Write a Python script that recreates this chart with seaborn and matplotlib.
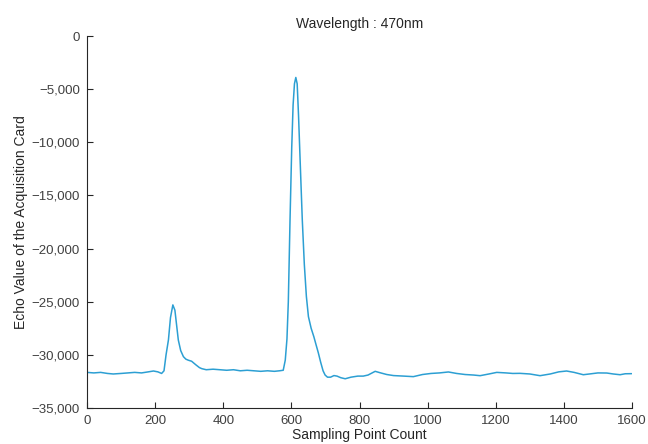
import pandas as pd
import matplotlib
matplotlib.use("Agg")
import matplotlib.pyplot as plt
import matplotlib.ticker as mticker
import seaborn as sns

# sample positions
sample_idx = [0, 20, 40, 60, 77, 100, 120, 140, 160, 180, 195, 208, 219, 226, 232, 239, 245,
              252, 258, 263, 268, 275, 283, 290, 297, 307, 320, 330, 337, 350, 370, 390, 410,
              430, 450, 470, 490, 510, 530, 550, 565, 576, 582, 587, 591, 596, 601, 605, 609,
              613, 617, 621, 626, 632, 638, 644, 650, 658, 666, 672, 679, 686, 693, 699, 706,
              715, 725, 734, 745, 758, 775, 795, 811, 825, 846, 860, 880, 900, 930, 958, 985,
              1010, 1035, 1061, 1085, 1110, 1135, 1154, 1180, 1203, 1230, 1250, 1271, 1300,
              1330, 1360, 1385, 1408, 1430, 1457, 1480, 1500, 1526, 1545, 1565, 1580, 1599]

echo_value = [-31650, -31700, -31650, -31750, -31800, -31750, -31700, -31650, -31700, -31600,
              -31520, -31600, -31750, -31500, -30000, -28600, -26500, -25300, -25800, -27200,
              -28600, -29600, -30170, -30400, -30500, -30600, -30950, -31200, -31300, -31400,
              -31350, -31400, -31450, -31400, -31500, -31450, -31500, -31550, -31500, -31550,
              -31500, -31450, -30500, -28500, -25000, -17300, -10500, -6500, -4500, -3900,
              -4500, -7500, -12000, -17300, -21500, -24500, -26400, -27500, -28300, -29000,
              -29800, -30700, -31500, -31900, -32100, -32100, -31950, -32000, -32150, -32250,
              -32100, -32000, -32000, -31900, -31550, -31680, -31850, -31950, -32000, -32050,
              -31850, -31750, -31700, -31610, -31750, -31850, -31900, -31960, -31800, -31650,
              -31700, -31750, -31740, -31800, -31960, -31800, -31600, -31520, -31650, -31870,
              -31780, -31700, -31710, -31800, -31870, -31780, -31770]

x_ticks = [0, 200, 400, 600, 800, 1000, 1200, 1400, 1600]
y_ticks = [0, -5000, -10000, -15000, -20000, -25000, -30000, -35000]

df = pd.DataFrame({"sample": sample_idx, "echo": echo_value})

sns.set_style("ticks")
plt.rcParams["font.family"] = ["Liberation Sans", "DejaVu Sans"]

fig = plt.figure(figsize=(6.48, 4.44), dpi=100)
ax = fig.add_axes([0.1343, 0.0811, 0.8410, 0.8378])

sns.lineplot(data=df, x="sample", y="echo", ax=ax, color="#2C9FD3", linewidth=1.1)

ax.set_xlim(0, 1600)
ax.set_ylim(-35000, 0)
ax.set_xticks(x_ticks)
ax.set_yticks(y_ticks)
ax.yaxis.set_major_formatter(mticker.FuncFormatter(
    lambda v, p: "0" if v == 0 else ("\u2212" + f"{abs(int(v)):,}")))

for s in ["top", "right"]:
    ax.spines[s].set_visible(False)
for s in ["left", "bottom"]:
    ax.spines[s].set_color("#262626")
    ax.spines[s].set_linewidth(0.8)
ax.tick_params(direction="in", length=4, width=0.8, colors="#262626",
               labelsize=9.5, labelcolor="#404040", pad=5)

ax.set_title("Wavelength : 470nm", fontsize=10, color="#262626", pad=6)
ax.set_xlabel("Sampling Point Count", fontsize=10, color="#262626", labelpad=1)
ax.set_ylabel("Echo Value of the Acquisition Card", fontsize=10, color="#262626", labelpad=3)

fig.savefig("out.png", dpi=100)
